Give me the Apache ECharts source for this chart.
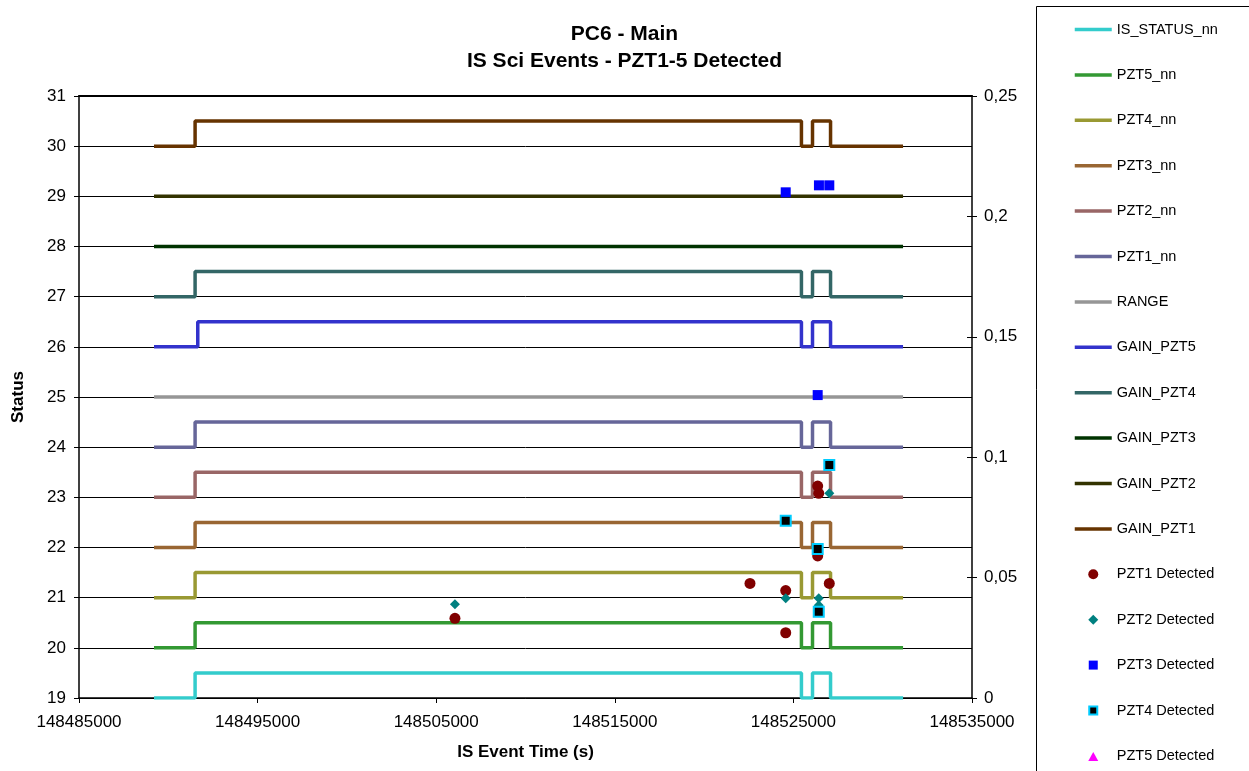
<!DOCTYPE html>
<html>
<head>
<meta charset="utf-8">
<script src="https://cdn.jsdelivr.net/npm/echarts@6/dist/echarts.min.js"></script>
<style>
html,body{margin:0;padding:0;background:#fff;}
#chart{width:1249px;height:771px;}
</style>
</head>
<body>
<div id="chart"></div>
<script>
// ---- data ----
const xTicks = [148485000, 148495000, 148505000, 148515000, 148525000, 148535000];
const stepTimes = [148489200, 148491500, 148525450, 148526070, 148527080, 148531140];
const gainPzt5Times = [148489200, 148491650, 148525450, 148526070, 148527080, 148531140];

const isStatus = [19, 19.5, 19, 19.5, 19, 19];
const pzt5nn = [20, 20.5, 20, 20.5, 20, 20];
const pzt4nn = [21, 21.5, 21, 21.5, 21, 21];
const pzt3nn = [22, 22.5, 22, 22.5, 22, 22];
const pzt2nn = [23, 23.5, 23, 23.5, 23, 23];
const pzt1nn = [24, 24.5, 24, 24.5, 24, 24];
const range = [25, 25, 25, 25, 25, 25];
const gainPzt5 = [26, 26.5, 26, 26.5, 26, 26];
const gainPzt4 = [27, 27.5, 27, 27.5, 27, 27];
const gainPzt3 = [28, 28, 28, 28, 28, 28];
const gainPzt2 = [29, 29, 29, 29, 29, 29];
const gainPzt1 = [30, 30.5, 30, 30.5, 30, 30];

const pzt1DetTime = [148506050, 148522570, 148524570, 148524570, 148526360, 148526420, 148526360, 148527010];
const pzt1DetVal  = [0.0331, 0.0476, 0.0446, 0.0271, 0.0880, 0.0850, 0.0590, 0.0476];
const pzt2DetTime = [148506050, 148524570, 148526420, 148526420, 148527010];
const pzt2DetVal  = [0.0389, 0.0414, 0.0414, 0.0385, 0.0850];
const pzt3DetTime = [148524570, 148526430, 148527010, 148526360];
const pzt3DetVal  = [0.2100, 0.2129, 0.2129, 0.1258];
const pzt4DetTime = [148527010, 148524570, 148526360, 148526420];
const pzt4DetVal  = [0.0968, 0.0736, 0.0619, 0.0358];
const pzt5DetTime = [];
const pzt5DetVal  = [];

const FONT = 'Liberation Sans, Arial, sans-serif';

function zip(a, b) { return a.map((v, i) => [v, b[i]]); }

function lineSeries(name, times, vals, color) {
  return {
    name: name, type: 'line', step: 'end', yAxisIndex: 0,
    data: zip(times, vals), symbol: 'none', showSymbol: false,
    lineStyle: { color: color, width: 3.5 }, itemStyle: { color: color },
    z: 2
  };
}
function scatterSeries(name, times, vals, symbol, size, color, border, bw) {
  return {
    name: name, type: 'scatter', yAxisIndex: 1,
    data: zip(times, vals), symbol: symbol, symbolSize: size, symbolKeepAspect: true,
    itemStyle: { color: color, borderColor: border || color, borderWidth: bw || 0, opacity: 1 },
    z: 5
  };
}

const series = [
  lineSeries('IS_STATUS_nn', stepTimes, isStatus, '#33CCCC'),
  lineSeries('PZT5_nn', stepTimes, pzt5nn, '#339933'),
  lineSeries('PZT4_nn', stepTimes, pzt4nn, '#999933'),
  lineSeries('PZT3_nn', stepTimes, pzt3nn, '#996633'),
  lineSeries('PZT2_nn', stepTimes, pzt2nn, '#996666'),
  lineSeries('PZT1_nn', stepTimes, pzt1nn, '#666699'),
  lineSeries('RANGE', stepTimes, range, '#969696'),
  lineSeries('GAIN_PZT5', gainPzt5Times, gainPzt5, '#3333CC'),
  lineSeries('GAIN_PZT4', stepTimes, gainPzt4, '#336666'),
  lineSeries('GAIN_PZT3', stepTimes, gainPzt3, '#003300'),
  lineSeries('GAIN_PZT2', stepTimes, gainPzt2, '#333300'),
  lineSeries('GAIN_PZT1', stepTimes, gainPzt1, '#663300'),
  scatterSeries('PZT1 Detected', pzt1DetTime, pzt1DetVal, 'circle', 11, '#800000'),
  scatterSeries('PZT2 Detected', pzt2DetTime, pzt2DetVal, 'diamond', 10, '#008080'),
  scatterSeries('PZT3 Detected', pzt3DetTime, pzt3DetVal, 'rect', 10, '#0000FF'),
  scatterSeries('PZT4 Detected', pzt4DetTime, pzt4DetVal, 'rect', 10, '#000000', '#00CCFF', 2),
  scatterSeries('PZT5 Detected', pzt5DetTime, pzt5DetVal, 'triangle', 10, '#FF00FF')
];

// legend icons (invisible moveTo corners keep the icon box 37x10 so shapes are not stretched)
const legendIcons = {
  'PZT1 Detected': 'circle',
  'PZT2 Detected': 'path://M0,0 M37,10 M13.5,5 L18.5,0 L23.5,5 L18.5,10 Z',
  'PZT3 Detected': 'path://M0,0 M37,10 M14,0.5 L23,0.5 L23,9.5 L14,9.5 Z',
  'PZT4 Detected': 'path://M0,0 M37,10 M14.5,1 L22.5,1 L22.5,9 L14.5,9 Z',
  'PZT5 Detected': 'path://M0,0 M37,10 M13.5,10 L18.5,1 L23.5,10 Z'
};
const legendData = series.map(s => s.type === 'line'
  ? { name: s.name, itemStyle: { opacity: 0 }, lineStyle: { width: 3.5, color: s.lineStyle.color } }
  : { name: s.name, icon: legendIcons[s.name] });

const chart = echarts.init(document.getElementById('chart'), null, { renderer: 'canvas' });
chart.setOption({
  animation: false,
  backgroundColor: '#ffffff',
  textStyle: { fontFamily: FONT },
  title: {
    text: 'PC6 - Main\nIS Sci Events - PZT1-5 Detected',
    left: 'center', top: 16,
    textStyle: { fontFamily: FONT, fontSize: 21, fontWeight: 'bold', color: '#000', lineHeight: 27 }
  },
  grid: { left: 79, right: 277, top: 96, bottom: 73, containLabel: false },
  legend: {
    orient: 'vertical', left: 1068, top: 17,
    itemWidth: 37, itemHeight: 10, itemGap: 30.4,
    symbolKeepAspect: true,
    textStyle: { fontFamily: FONT, fontSize: 14.5, color: '#000' },
    data: legendData
  },
  graphic: [{
    type: 'rect', shape: { x: 1036.5, y: 6.5, width: 300, height: 800 },
    style: { fill: 'none', stroke: '#000', lineWidth: 1 }, silent: true, z: 0
  }],
  xAxis: [{
    type: 'value', min: xTicks[0], max: xTicks[xTicks.length - 1],
    name: 'IS Event Time (s)', nameLocation: 'middle', nameGap: 46,
    nameTextStyle: { fontFamily: FONT, fontSize: 17, fontWeight: 'bold', color: '#000' },
    axisLine: { show: true, onZero: false, lineStyle: { color: '#000', width: 1.5 } },
    axisTick: { show: true, inside: false, length: 5, lineStyle: { color: '#000' }, customValues: xTicks },
    axisLabel: { color: '#000', fontSize: 17, fontFamily: FONT, margin: 16, customValues: xTicks,
                 formatter: v => String(v) },
    splitLine: { show: false }
  }, {
    type: 'value', position: 'top', min: xTicks[0], max: xTicks[xTicks.length - 1],
    axisLine: { show: true, onZero: false, lineStyle: { color: '#000', width: 2 } },
    axisTick: { show: false }, axisLabel: { show: false }, splitLine: { show: false }
  }],
  yAxis: [{
    type: 'value', min: 19, max: 31, interval: 1, position: 'left',
    name: 'Status', nameLocation: 'middle', nameGap: 52, nameRotate: 90,
    nameTextStyle: { fontFamily: FONT, fontSize: 17, fontWeight: 'bold', color: '#000' },
    axisLine: { show: true, lineStyle: { color: '#000', width: 1.5 } },
    axisTick: { show: true, inside: false, length: 5, lineStyle: { color: '#000' } },
    axisLabel: { color: '#000', fontSize: 17, fontFamily: FONT, margin: 13 },
    splitLine: { show: true, lineStyle: { color: '#000', width: 1 } }
  }, {
    type: 'value', min: 0, max: 0.25, interval: 0.05, position: 'right',
    axisLine: { show: true, lineStyle: { color: '#000', width: 1.5 } },
    axisTick: { show: true, inside: false, length: 5, lineStyle: { color: '#000' } },
    axisLabel: { color: '#000', fontSize: 17, fontFamily: FONT, margin: 12,
                 formatter: v => parseFloat(v.toFixed(2)).toString().replace('.', ',') },
    splitLine: { show: false }
  }, {
    type: 'value', min: 0, max: 0.25, interval: 0.05, position: 'right',
    axisLine: { show: false },
    axisTick: { show: true, inside: true, length: 5, lineStyle: { color: '#000' } },
    axisLabel: { show: false },
    splitLine: { show: false }
  }],
  series: series
});
</script>
</body>
</html>
